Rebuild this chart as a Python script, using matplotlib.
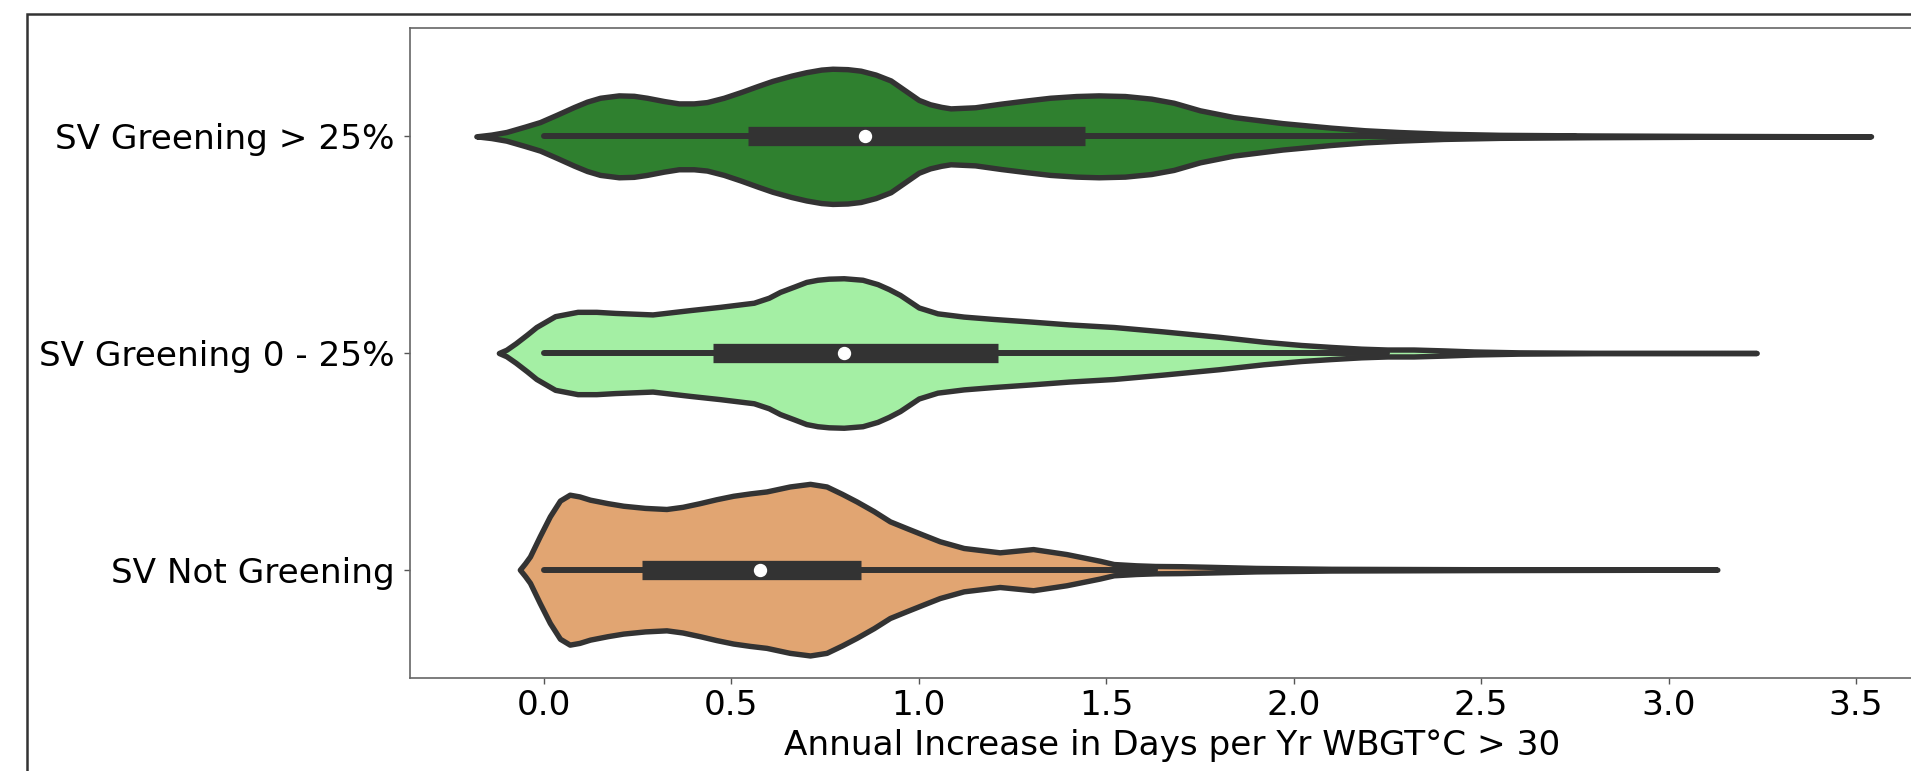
import numpy as np
import matplotlib
matplotlib.use("Agg")
import matplotlib.pyplot as plt
from matplotlib.patches import Rectangle

# categories, top to bottom
categories = ["SV Greening > 25%", "SV Greening 0 - 25%", "SV Not Greening"]
fill_colors = ["#2f802f", "#a4efa4", "#e1a572"]
line_gray = "#333333"

# violin outlines: value and half-width (category units)
x_green_hi = np.array([-0.18, -0.14, -0.10, -0.05, -0.01, 0.035, 0.08, 0.115, 0.15, 0.20,
                       0.24, 0.275, 0.32, 0.36, 0.40, 0.435, 0.48, 0.525, 0.57, 0.61,
                       0.66, 0.70, 0.74, 0.77, 0.81, 0.845, 0.885, 0.925, 0.965, 1.0,
                       1.03, 1.06, 1.085, 1.15, 1.22, 1.29, 1.35, 1.42, 1.48, 1.55,
                       1.62, 1.68, 1.75, 1.84, 1.97, 2.10, 2.19, 2.28, 2.40, 2.55,
                       2.80, 3.10, 3.54])
w_green_hi = np.array([0.0, 0.008, 0.02, 0.045, 0.066, 0.10, 0.135, 0.16, 0.178, 0.189,
                       0.187, 0.178, 0.163, 0.152, 0.152, 0.158, 0.178, 0.204, 0.232, 0.256,
                       0.28, 0.296, 0.308, 0.312, 0.31, 0.303, 0.285, 0.258, 0.21, 0.168,
                       0.148, 0.136, 0.129, 0.134, 0.151, 0.166, 0.178, 0.186, 0.189, 0.186,
                       0.174, 0.155, 0.12, 0.089, 0.061, 0.040, 0.028, 0.02, 0.012, 0.007,
                       0.004, 0.002, 0.0])

x_green_lo = np.array([-0.12, -0.10, -0.075, -0.045, -0.02, 0.03, 0.09, 0.14, 0.19, 0.29,
                       0.39, 0.47, 0.56, 0.60, 0.63, 0.67, 0.70, 0.73, 0.76, 0.80,
                       0.85, 0.89, 0.92, 0.95, 1.00, 1.05, 1.12, 1.20, 1.30, 1.40,
                       1.52, 1.65, 1.80, 1.92, 2.02, 2.10, 2.18, 2.25, 2.32, 2.40,
                       2.48, 2.60, 2.80, 3.235])
w_green_lo = np.array([0.0, 0.015, 0.045, 0.085, 0.12, 0.17, 0.19, 0.19, 0.185, 0.178,
                       0.198, 0.213, 0.232, 0.255, 0.282, 0.308, 0.328, 0.338, 0.343, 0.345,
                       0.338, 0.318, 0.295, 0.268, 0.21, 0.183, 0.168, 0.157, 0.145, 0.132,
                       0.12, 0.10, 0.075, 0.052, 0.037, 0.028, 0.02, 0.016, 0.016, 0.012,
                       0.007, 0.003, 0.001, 0.0])

x_not = np.array([-0.064, -0.05, -0.037, -0.011, 0.016, 0.043, 0.069, 0.095, 0.123, 0.17,
                  0.212, 0.27, 0.327, 0.37, 0.416, 0.46, 0.505, 0.55, 0.594, 0.656,
                  0.71, 0.754, 0.795, 0.834, 0.88, 0.923, 0.97, 1.012, 1.056, 1.12,
                  1.216, 1.305, 1.394, 1.483, 1.52, 1.58, 1.63, 1.70, 1.78, 1.90,
                  2.10, 2.50, 3.13])
w_not = np.array([0.0, 0.03, 0.061, 0.154, 0.246, 0.319, 0.346, 0.338, 0.323, 0.307,
                  0.295, 0.285, 0.28, 0.29, 0.307, 0.325, 0.341, 0.352, 0.361, 0.384,
                  0.396, 0.384, 0.35, 0.315, 0.27, 0.223, 0.19, 0.161, 0.131, 0.10,
                  0.08, 0.095, 0.072, 0.041, 0.026, 0.02, 0.017, 0.016, 0.013, 0.008,
                  0.004, 0.002, 0.0])

outlines = [(x_green_hi, w_green_hi), (x_green_lo, w_green_lo), (x_not, w_not)]

# inner box stats
whisker_lo = [0.0, 0.0, 0.0]
whisker_hi = [2.75, 2.25, 1.63]
q1 = [0.545, 0.45, 0.262]
medians = [0.856, 0.801, 0.576]
q3 = [1.443, 1.212, 0.847]

xticks = [0.0, 0.5, 1.0, 1.5, 2.0, 2.5, 3.0, 3.5]
xlabel = "Annual Increase in Days per Yr WBGT°C > 30"

W, H = 1911, 771
fig = plt.figure(figsize=(W / 100, H / 100), dpi=100)
ax = fig.add_axes([410 / W, 1 - 678 / H, (1934 - 410) / W, (678 - 28) / H])

for i, (xs, ws) in enumerate(outlines):
    ax.fill_between(xs, i - ws, i + ws, facecolor=fill_colors[i],
                    edgecolor=line_gray, linewidth=3.9, joinstyle="round", zorder=1)
    ax.plot([whisker_lo[i], whisker_hi[i]], [i, i], color=line_gray, lw=4.3,
            solid_capstyle="round", zorder=2)
    ax.plot([q1[i], q3[i]], [i, i], color=line_gray, lw=13.9,
            solid_capstyle="butt", zorder=3)
    ax.plot(medians[i], i, "o", color="white", ms=8.6, zorder=4)

ax.set_xlim(-0.357, 3.708)
ax.set_ylim(2.5, -0.5)
ax.set_yticks(range(len(categories)))
ax.set_yticklabels(categories)
ax.set_xticks(xticks)
ax.set_xticklabels([f"{t:.1f}" for t in xticks])
ax.set_xlabel(xlabel, fontsize=24.7, labelpad=5)
ax.tick_params(labelsize=24.7, length=4.3, width=1.0, color="#555555")
ax.tick_params(axis="y", pad=7)
for sp in ax.spines.values():
    sp.set_color("#666666")
    sp.set_linewidth(1.2)

# outer frame around the figure (cut at right and bottom)
fig.patches.append(Rectangle((27 / W, -0.1), 1.2, 1.1 - 14 / H, transform=fig.transFigure,
                             fill=False, edgecolor="#333333", linewidth=1.8))

fig.savefig("out.png", dpi=100)
